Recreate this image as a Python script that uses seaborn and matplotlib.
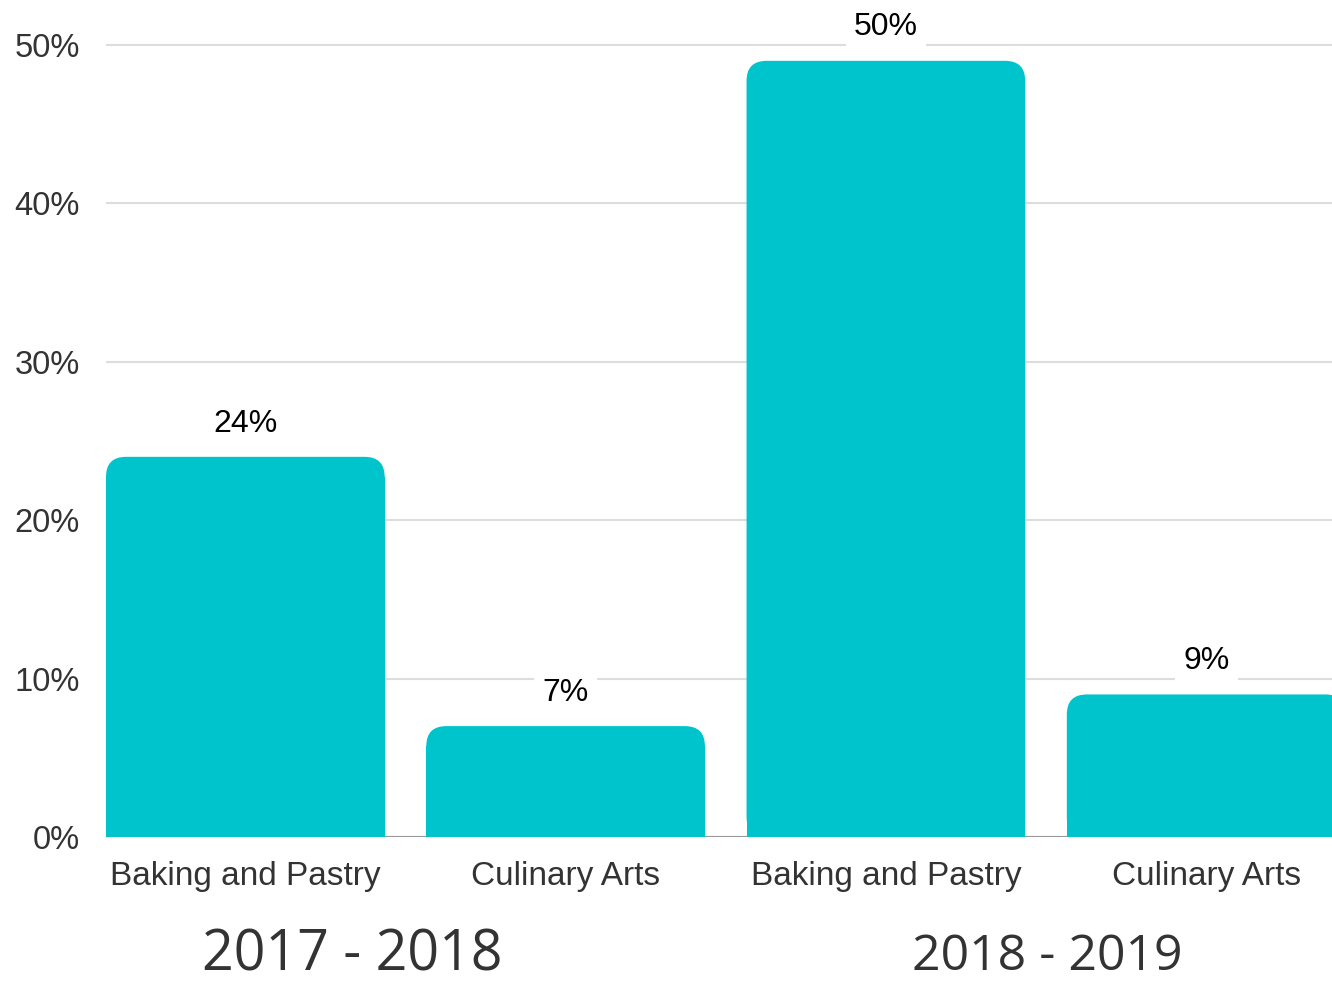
import pandas as pd
import matplotlib.pyplot as plt
import seaborn as sns
from matplotlib.patches import FancyBboxPatch, Rectangle

# Data
years = ["2017 - 2018", "2017 - 2018", "2018 - 2019", "2018 - 2019"]
programs = ["Baking and Pastry", "Culinary Arts", "Baking and Pastry", "Culinary Arts"]
shares = [24, 7, 49, 9]
share_labels = ["24%", "7%", "50%", "9%"]
periods = ["2017 - 2018", "2018 - 2019"]
y_ticks = [0, 10, 20, 30, 40, 50]

df = pd.DataFrame({
    "key": [f"{y}\n{p}" for y, p in zip(years, programs)],
    "share": shares,
})

sns.set_theme(style="white")
plt.rcParams["font.family"] = ["Liberation Sans", "DejaVu Sans"]

W, H = 1332, 985
fig = plt.figure(figsize=(W / 100, H / 100), dpi=100)
ax = fig.add_axes([106 / W, 148 / H, 1 - 106 / W, 837 / H])

teal = "#00C4CC"
sns.barplot(data=df, x="key", y="share", color=teal, saturation=1,
            width=0.87, ax=ax, zorder=2)

ax.set_xlim(-0.435, 3.393)
ax.set_ylim(0, 52.84)

# Rounded top corners: replace seaborn's rectangles by rounded patches
rx = 20 / 320
ry = 20 / (837 / 52.84)
bars = list(ax.patches)
for p, lab in zip(bars, share_labels):
    x, w, h = p.get_x(), p.get_width(), p.get_height()
    p.set_visible(False)
    ax.add_patch(FancyBboxPatch((x, 0), w, h,
                                boxstyle=f"round,pad=0,rounding_size={rx}",
                                mutation_aspect=ry / rx, fc=teal, ec="none",
                                zorder=2))
    ax.add_patch(Rectangle((x, 0), w, h - ry, fc=teal, ec="none", zorder=2))
    ax.annotate(lab, (x + w / 2, h), xytext=(0, 24), textcoords="offset points",
                ha="center", va="center", fontsize=23, color="black",
                bbox=dict(fc="white", ec="none", pad=6), zorder=4)

ax.set_xticks(range(len(programs)))
ax.set_xticklabels(programs)
ax.set_yticks(y_ticks)
ax.set_yticklabels([f"{v}%" for v in y_ticks])
ax.tick_params(axis="x", length=0, pad=17, labelsize=24, labelcolor="#333333")
ax.tick_params(axis="y", length=0, pad=19, labelsize=23.5, labelcolor="#333333")
ax.set_xlabel("")
ax.set_ylabel("")

ax.yaxis.grid(True, color="#dddddd", lw=1.5)
ax.set_axisbelow(True)
ax.axhline(0, color="#999999", lw=1.5, zorder=1)
sns.despine(ax=ax, left=True, bottom=True)

# Group labels under the categories
fig.text(352 / W, 1 - 956 / H, periods[0], family="Open Sans", fontsize=40,
         color="#333333", ha="center", va="center")
fig.text(1047 / W, 1 - 957 / H, periods[1], family="Open Sans", fontsize=36,
         color="#333333", ha="center", va="center")

plt.savefig("out.png", dpi=100)
